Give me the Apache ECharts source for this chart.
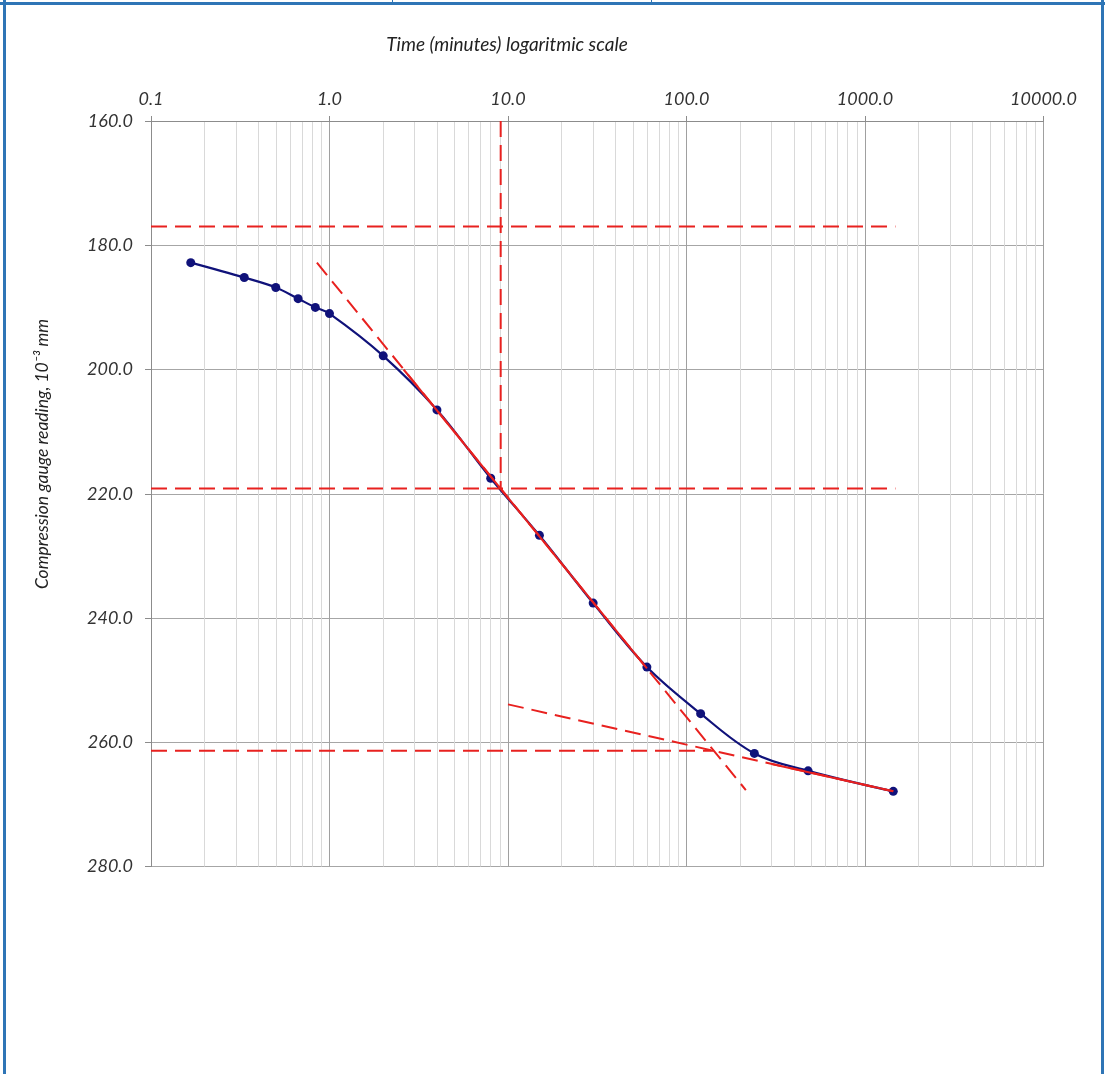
<!DOCTYPE html>
<html>
<head>
<meta charset="utf-8">
<script src="https://cdn.jsdelivr.net/npm/echarts@6/dist/echarts.min.js"></script>
<style>
html,body{margin:0;padding:0;background:#fff;}
#chart{width:1105px;height:1074px;}
</style>
</head>
<body>
<div id="chart"></div>
<script>
// ---- data ----
const times = [0.167, 0.333, 0.5, 0.667, 0.833, 1, 2, 4, 8, 15, 30, 60, 120, 240, 480, 1440];
const readings = [182.8, 185.2, 186.8, 188.6, 190.0, 191.0, 197.8, 206.5, 217.5, 226.7, 237.6, 247.9, 255.4, 261.8, 264.6, 267.9];

// construction lines (Casagrande method)
const d0Line = [[0.1, 177.0], [1480, 177.0]];
const d50Line = [[0.1, 219.15], [1480, 219.15]];
const t50Line = [[9.1, 160], [9.1, 219.15]];
const d100Line = [[0.1, 261.35], [142, 261.35]];
const steepTangent = [[0.85, 182.8], [215, 267.7]];
const steepSolid = [[2.6, 200.0], [60, 248.1]];
const flatTangent = [[10, 253.9], [1440, 267.9]];
const flatSolid = [[300, 263.5], [1440, 267.9]];

// axes
const xTickLabels = ['0.1', '1.0', '10.0', '100.0', '1000.0', '10000.0'];
const yTickLabels = ['160.0', '180.0', '200.0', '220.0', '240.0', '260.0', '280.0'];
const xTitle = 'Time (minutes) logaritmic scale';
const yTitle = 'Compression gauge reading, 10\u207B\u00B3 mm';

// minor log gridline positions (2..9 x 10^k)
const minorX = [];
for (let k = -1; k < 4; k++) {
  for (let m = 2; m <= 9; m++) minorX.push(+(m * Math.pow(10, k)).toPrecision(3));
}

const RED = '#E8211F';
const NAVY = '#10127A';
const FONT = 'Lato';
const TXT = '#333333';

const chart = echarts.init(document.getElementById('chart'), null, {renderer: 'canvas'});

function redLine(data, dashed) {
  return {
    type: 'line', data: data, symbol: 'none', silent: true, z: 5,
    lineStyle: {color: RED, width: 2, type: dashed ? [16, 8] : 'solid'},
    animation: false
  };
}

const option = {
  animation: false,
  backgroundColor: '#ffffff',
  grid: {left: 151, top: 121, right: 61.5, bottom: 207.5, containLabel: false},
  xAxis: {
    type: 'log', logBase: 10, min: 0.1, max: 10000, position: 'top',
    axisLine: {show: true, onZero: false, lineStyle: {color: '#8c8c8c', width: 1}},
    axisTick: {show: true, inside: false, length: 5, lineStyle: {color: '#8c8c8c'}},
    axisLabel: {
      margin: 13, fontFamily: FONT, fontStyle: 'italic', fontSize: 18, color: TXT,
      formatter: function (v) { return xTickLabels[Math.round(Math.log10(v)) + 1]; }
    },
    splitLine: {show: true, lineStyle: {color: '#a0a0a0', width: 1}},
    minorTick: {show: false}, minorSplitLine: {show: false}
  },
  yAxis: {
    type: 'value', min: 160, max: 280, interval: 20, inverse: true,
    axisLine: {show: true, lineStyle: {color: '#8c8c8c', width: 1}},
    axisTick: {show: true, inside: false, length: 6, lineStyle: {color: '#8c8c8c'}},
    axisLabel: {
      margin: 18, fontFamily: FONT, fontStyle: 'italic', fontSize: 18, color: TXT,
      formatter: function (v) { return yTickLabels[Math.round((v - 160) / 20)]; }
    },
    splitLine: {show: true, lineStyle: {color: '#a6a6a6', width: 1}}
  },
  graphic: [
    {type: 'text', x: 507, y: 45, style: {text: xTitle, fontFamily: FONT, fontStyle: 'italic', fontSize: 19, fill: '#222222', textAlign: 'center', textVerticalAlign: 'middle'}},
    {type: 'text', x: 42, y: 454, rotation: Math.PI / 2, style: {text: yTitle, fontFamily: FONT, fontStyle: 'italic', fontSize: 17.5, fill: '#222222', textAlign: 'center', textVerticalAlign: 'middle'}},
    // frame
    {type: 'rect', shape: {x: 3, y: 0, width: 3, height: 1074}, style: {fill: '#2E75B6'}, silent: true},
    {type: 'rect', shape: {x: 1101, y: 0, width: 3, height: 1074}, style: {fill: '#2E75B6'}, silent: true},
    {type: 'rect', shape: {x: 0, y: 2, width: 1105, height: 3}, style: {fill: '#2E75B6'}, silent: true},
    {type: 'rect', shape: {x: 392, y: 0, width: 1, height: 3}, style: {fill: '#2E75B6'}, silent: true},
    {type: 'rect', shape: {x: 651, y: 0, width: 1, height: 3}, style: {fill: '#2E75B6'}, silent: true}
  ],
  series: [
    {
      type: 'line', data: [], silent: true, z: 0,
      markLine: {
        silent: true, symbol: 'none', animation: false, z: 0,
        label: {show: false},
        lineStyle: {color: '#d9d9d9', width: 1, type: 'solid'},
        data: minorX.map(function (v) { return {xAxis: v}; })
      }
    },
    {
      type: 'line', data: times.map(function (t, i) { return [t, readings[i]]; }),
      smooth: 0.35, symbol: 'circle', symbolSize: 9, z: 3,
      lineStyle: {color: NAVY, width: 2.2},
      itemStyle: {color: NAVY, borderWidth: 0}
    },
    redLine(d0Line, true),
    redLine(d50Line, true),
    redLine(t50Line, true),
    redLine(d100Line, true),
    redLine(steepTangent, true),
    redLine(steepSolid, false),
    redLine(flatTangent, true),
    redLine(flatSolid, false)
  ]
};
chart.setOption(option);
</script>
</body>
</html>
